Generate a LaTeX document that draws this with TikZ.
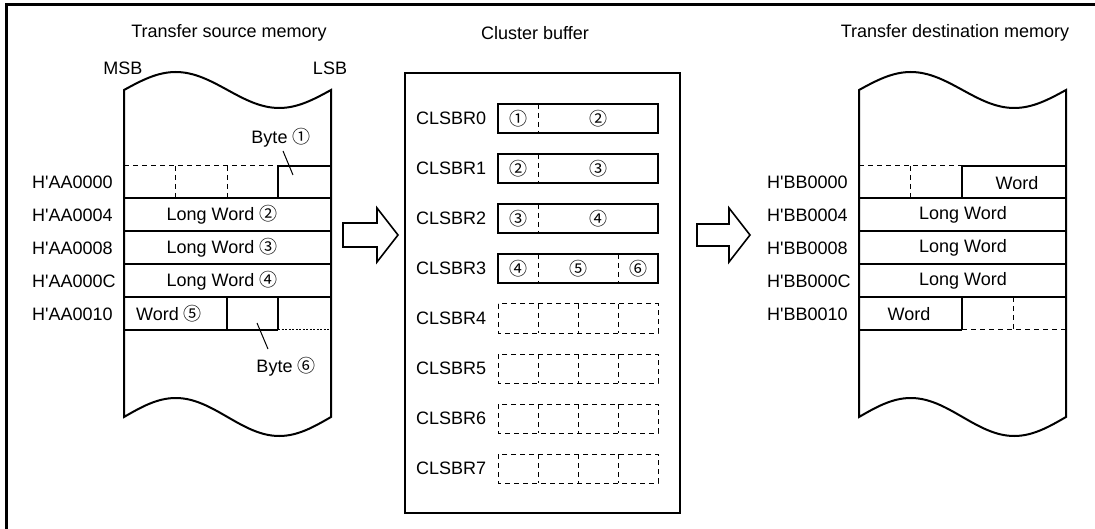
\documentclass[tikz,border=0pt]{standalone}
\usepackage{fontspec}
\setmainfont{Liberation Sans}[Ligatures=TeXOff]
\newfontfamily\circfont{Noto Sans CJK JP}
\newcommand{\cn}[1]{{\circfont\fontsize{18}{18}\selectfont #1}}
\begin{document}
\begin{tikzpicture}[x=1pt,y=-1pt,
  font=\fontsize{18}{21}\selectfont,
  every node/.style={inner sep=0pt},
  wall/.style={line width=2pt,line join=miter},
  cell/.style={line width=1.6pt},
  dsh/.style={line width=1pt,dash pattern=on 5pt off 4pt},
  dot/.style={line width=1pt,dash pattern=on 2pt off 1.5pt},
  hollow/.style={line width=1.6pt,fill=white,line join=miter},
  lead/.style={line width=1pt}]
\useasboundingbox (0,0) rectangle (1095,529);
% outer frame (left and top visible)
\draw[line width=2.2pt] (6.5,529) -- (6.5,4.5) -- (1095,4.5);

% ---------- titles ----------
\node (tsrc) at (229,33) {Transfer source memory};
\node (tclu) at (535,33) {Cluster buffer};
\node (tdst) at (955,33) {Transfer destination memory};
\node (msb) at (123,68) {MSB};
\node (lsb) at (330,68) {LSB};

% ---------- source memory ----------
\draw[wall] (124,90) sin (175.75,72) cos (227.5,90) sin (279.25,108) cos (331,90)
  -- (331,417) sin (279.25,436) cos (227.5,417) sin (175.75,398) cos (124,417) -- cycle;
\draw[dsh] (124,166) -- (278,166);
\draw[cell] (278,166) -- (331,166);
\draw[dsh] (175,166) -- (175,198);
\draw[dsh] (227,166) -- (227,198);
\draw[cell] (278,166) -- (278,198);
\foreach \yy in {198,231,264,297} \draw[cell] (124,\yy) -- (331,\yy);
\draw[cell] (124,330) -- (278,330);
\draw[dot] (278,330) -- (331,330);
\draw[cell] (227,297) -- (227,330);
\draw[cell] (278,297) -- (278,330);
\node[anchor=west] (sa0) at (32,182) {H'AA0000};
\node[anchor=west] (sa4) at (32,215) {H'AA0004};
\node[anchor=west] (sa8) at (32,248) {H'AA0008};
\node[anchor=west] (sac) at (32,281) {H'AA000C};
\node[anchor=west] (sa10) at (32,314) {H'AA0010};
\node (lw2) at (222,215) {Long Word \cn{②}};
\node (lw3) at (222,248) {Long Word \cn{③}};
\node (lw4) at (222,281) {Long Word \cn{④}};
\node (w5) at (169,314) {Word \cn{⑤}};
\node (b1) at (281,138) {Byte \cn{①}};
\node (b6) at (286,367) {Byte \cn{⑥}};
\coordinate (b1p) at (293,175);
\coordinate (b6p) at (257,323);
\draw[lead] (283,151) -- (b1p);
\draw[lead] (268,349) -- (b6p);

% ---------- arrows ----------
\draw[hollow] (343,223) -- (377,223) -- (377,208) -- (398,235) -- (377,262) -- (377,247) -- (343,247) -- cycle;
\draw[hollow] (697,224) -- (729,224) -- (729,208) -- (750,235) -- (729,262) -- (729,246) -- (697,246) -- cycle;

% ---------- cluster buffer ----------
\draw[wall] (405,73) rectangle (680,513);
\foreach \i in {0,...,7}{
  \pgfmathsetmacro\yt{104+50*\i}
  \pgfmathsetmacro\yc{\yt+14.5}
  \node[anchor=west] (clsbr\i) at (416,\yc) {CLSBR\i};
}
\foreach \i in {0,1,2,3}{
  \pgfmathsetmacro\yt{104+50*\i}
  \draw[cell] (498,\yt) rectangle (658,\yt+29);
  \draw[dsh] (538,\yt) -- (538,\yt+29);
}
\draw[dsh] (618,254) -- (618,283);
\foreach \i in {4,...,7}{
  \pgfmathsetmacro\yt{104+50*\i}
  \draw[dsh] (498,\yt) rectangle (658,\yt+29);
  \foreach \xx in {538,578,618} \draw[dsh] (\xx,\yt) -- (\xx,\yt+29);
}
\node (r0a) at (518,118.5) {\cn{①}};
\node (r0b) at (598,118.5) {\cn{②}};
\node (r1a) at (518,168.5) {\cn{②}};
\node (r1b) at (598,168.5) {\cn{③}};
\node (r2a) at (518,218.5) {\cn{③}};
\node (r2b) at (598,218.5) {\cn{④}};
\node (r3a) at (518,268.5) {\cn{④}};
\node (r3b) at (578,268.5) {\cn{⑤}};
\node (r3c) at (638,268.5) {\cn{⑥}};

% ---------- destination memory ----------
\draw[wall] (859,90) sin (910.75,72) cos (962.5,90) sin (1014.25,108) cos (1066,90)
  -- (1066,417) sin (1014.25,436) cos (962.5,417) sin (910.75,398) cos (859,417) -- cycle;
\draw[dsh] (859,166) -- (962,166);
\draw[cell] (962,166) -- (1066,166);
\draw[dsh] (910,166) -- (910,198);
\draw[cell] (962,166) -- (962,198);
\foreach \yy in {198,231,264,297} \draw[cell] (859,\yy) -- (1066,\yy);
\draw[cell] (859,330) -- (962,330);
\draw[dsh] (962,330) -- (1066,330);
\draw[cell] (962,297) -- (962,330);
\draw[dsh] (1013,297) -- (1013,330);
\node[anchor=west] (da0) at (767,182) {H'BB0000};
\node[anchor=west] (da4) at (767,215) {H'BB0004};
\node[anchor=west] (da8) at (767,248) {H'BB0008};
\node[anchor=west] (dac) at (767,281) {H'BB000C};
\node[anchor=west] (da10) at (767,314) {H'BB0010};
\node (dw0) at (1017,183) {Word};
\node (dlw4) at (963,215) {Long Word};
\node (dlw8) at (963,248) {Long Word};
\node (dlwc) at (963,281) {Long Word};
\node (dw10) at (909,314) {Word};
\end{tikzpicture}
\end{document}
